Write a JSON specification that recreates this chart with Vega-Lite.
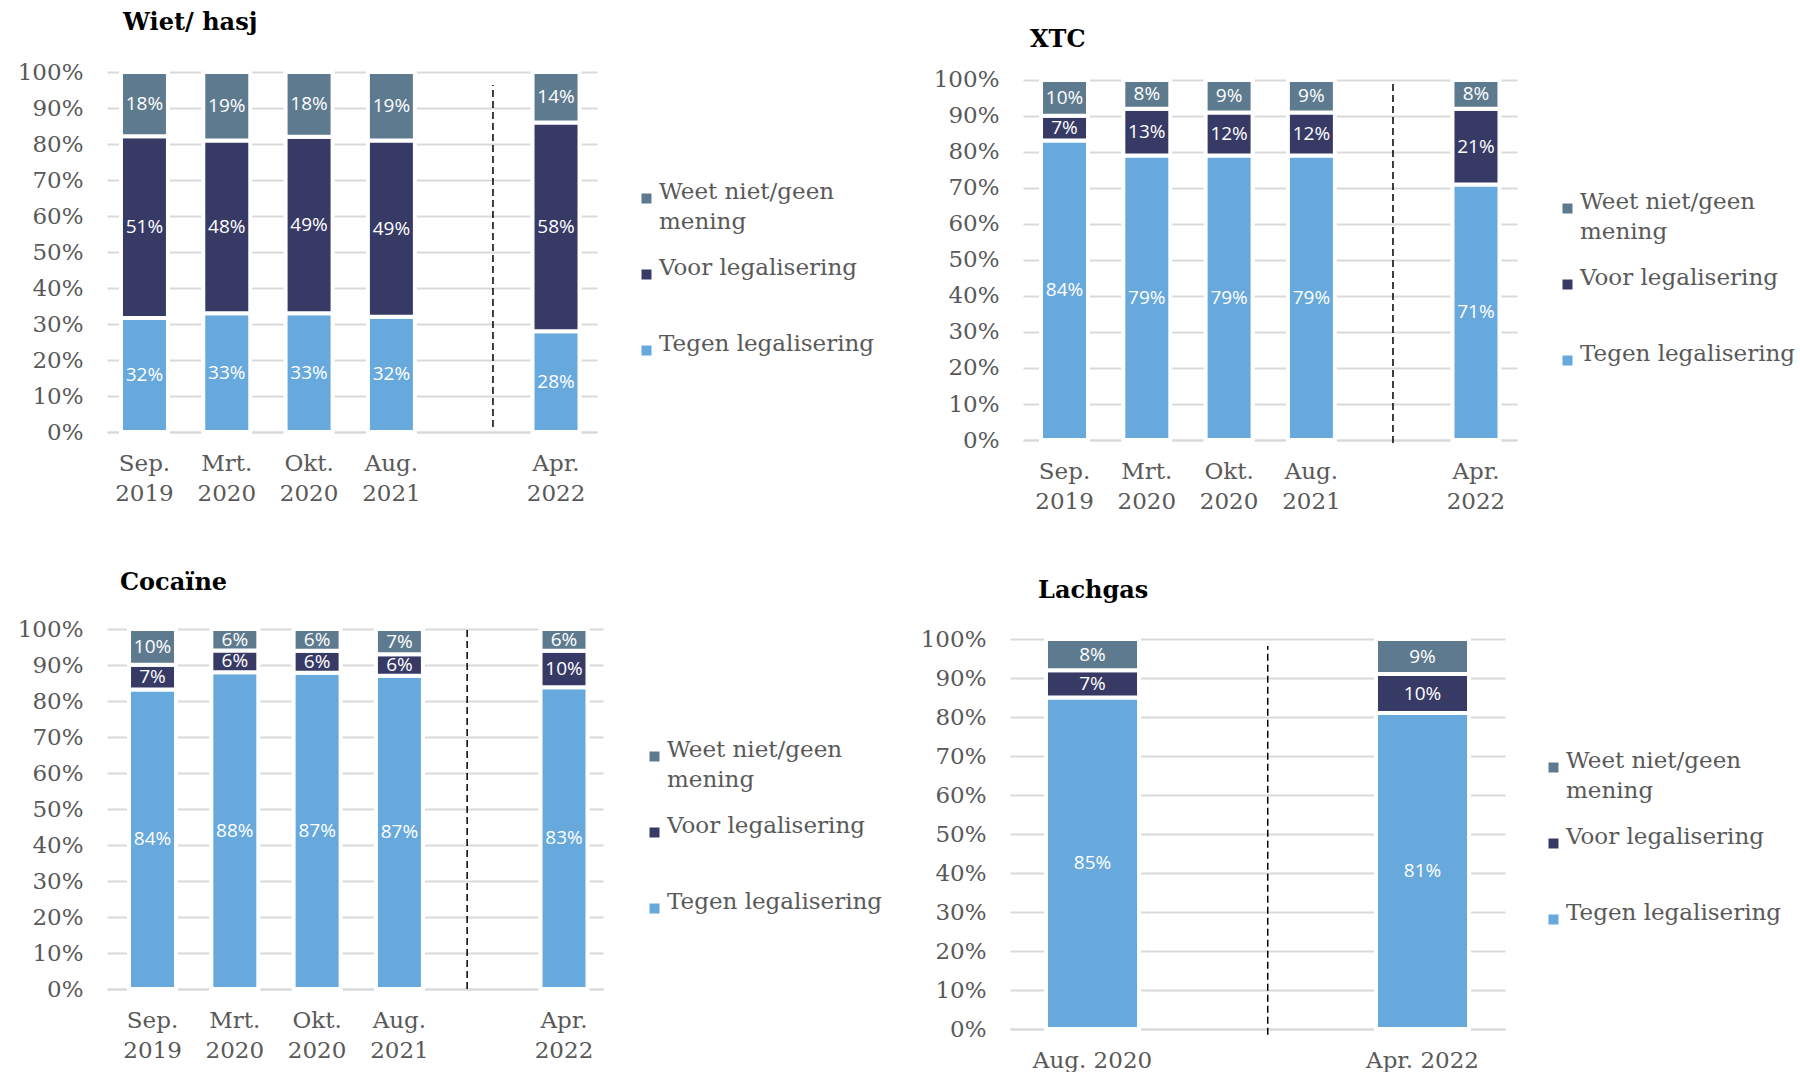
{
  "$schema": "https://vega.github.io/schema/vega-lite/v6.json",
  "background": "white",
  "padding": {"left": 17, "top": 11, "right": 0, "bottom": 0},
  "datasets": {
    "bars": [
      {"panel": "wiet", "date": "Sep. 2019", "cat": "Tegen legalisering", "v": 0.32, "order": 1},
      {"panel": "wiet", "date": "Sep. 2019", "cat": "Voor legalisering", "v": 0.51, "order": 2},
      {"panel": "wiet", "date": "Sep. 2019", "cat": "Weet niet/geen mening", "v": 0.18, "order": 3},
      {"panel": "wiet", "date": "Mrt. 2020", "cat": "Tegen legalisering", "v": 0.33, "order": 1},
      {"panel": "wiet", "date": "Mrt. 2020", "cat": "Voor legalisering", "v": 0.48, "order": 2},
      {"panel": "wiet", "date": "Mrt. 2020", "cat": "Weet niet/geen mening", "v": 0.19, "order": 3},
      {"panel": "wiet", "date": "Okt. 2020", "cat": "Tegen legalisering", "v": 0.33, "order": 1},
      {"panel": "wiet", "date": "Okt. 2020", "cat": "Voor legalisering", "v": 0.49, "order": 2},
      {"panel": "wiet", "date": "Okt. 2020", "cat": "Weet niet/geen mening", "v": 0.18, "order": 3},
      {"panel": "wiet", "date": "Aug. 2021", "cat": "Tegen legalisering", "v": 0.32, "order": 1},
      {"panel": "wiet", "date": "Aug. 2021", "cat": "Voor legalisering", "v": 0.49, "order": 2},
      {"panel": "wiet", "date": "Aug. 2021", "cat": "Weet niet/geen mening", "v": 0.19, "order": 3},
      {"panel": "wiet", "date": "Apr. 2022", "cat": "Tegen legalisering", "v": 0.28, "order": 1},
      {"panel": "wiet", "date": "Apr. 2022", "cat": "Voor legalisering", "v": 0.58, "order": 2},
      {"panel": "wiet", "date": "Apr. 2022", "cat": "Weet niet/geen mening", "v": 0.14, "order": 3},
      {"panel": "xtc", "date": "Sep. 2019", "cat": "Tegen legalisering", "v": 0.84, "order": 1},
      {"panel": "xtc", "date": "Sep. 2019", "cat": "Voor legalisering", "v": 0.07, "order": 2},
      {"panel": "xtc", "date": "Sep. 2019", "cat": "Weet niet/geen mening", "v": 0.10, "order": 3},
      {"panel": "xtc", "date": "Mrt. 2020", "cat": "Tegen legalisering", "v": 0.79, "order": 1},
      {"panel": "xtc", "date": "Mrt. 2020", "cat": "Voor legalisering", "v": 0.13, "order": 2},
      {"panel": "xtc", "date": "Mrt. 2020", "cat": "Weet niet/geen mening", "v": 0.08, "order": 3},
      {"panel": "xtc", "date": "Okt. 2020", "cat": "Tegen legalisering", "v": 0.79, "order": 1},
      {"panel": "xtc", "date": "Okt. 2020", "cat": "Voor legalisering", "v": 0.12, "order": 2},
      {"panel": "xtc", "date": "Okt. 2020", "cat": "Weet niet/geen mening", "v": 0.09, "order": 3},
      {"panel": "xtc", "date": "Aug. 2021", "cat": "Tegen legalisering", "v": 0.79, "order": 1},
      {"panel": "xtc", "date": "Aug. 2021", "cat": "Voor legalisering", "v": 0.12, "order": 2},
      {"panel": "xtc", "date": "Aug. 2021", "cat": "Weet niet/geen mening", "v": 0.09, "order": 3},
      {"panel": "xtc", "date": "Apr. 2022", "cat": "Tegen legalisering", "v": 0.71, "order": 1},
      {"panel": "xtc", "date": "Apr. 2022", "cat": "Voor legalisering", "v": 0.21, "order": 2},
      {"panel": "xtc", "date": "Apr. 2022", "cat": "Weet niet/geen mening", "v": 0.08, "order": 3},
      {"panel": "coc", "date": "Sep. 2019", "cat": "Tegen legalisering", "v": 0.84, "order": 1},
      {"panel": "coc", "date": "Sep. 2019", "cat": "Voor legalisering", "v": 0.07, "order": 2},
      {"panel": "coc", "date": "Sep. 2019", "cat": "Weet niet/geen mening", "v": 0.10, "order": 3},
      {"panel": "coc", "date": "Mrt. 2020", "cat": "Tegen legalisering", "v": 0.88, "order": 1},
      {"panel": "coc", "date": "Mrt. 2020", "cat": "Voor legalisering", "v": 0.06, "order": 2},
      {"panel": "coc", "date": "Mrt. 2020", "cat": "Weet niet/geen mening", "v": 0.06, "order": 3},
      {"panel": "coc", "date": "Okt. 2020", "cat": "Tegen legalisering", "v": 0.87, "order": 1},
      {"panel": "coc", "date": "Okt. 2020", "cat": "Voor legalisering", "v": 0.06, "order": 2},
      {"panel": "coc", "date": "Okt. 2020", "cat": "Weet niet/geen mening", "v": 0.06, "order": 3},
      {"panel": "coc", "date": "Aug. 2021", "cat": "Tegen legalisering", "v": 0.87, "order": 1},
      {"panel": "coc", "date": "Aug. 2021", "cat": "Voor legalisering", "v": 0.06, "order": 2},
      {"panel": "coc", "date": "Aug. 2021", "cat": "Weet niet/geen mening", "v": 0.07, "order": 3},
      {"panel": "coc", "date": "Apr. 2022", "cat": "Tegen legalisering", "v": 0.83, "order": 1},
      {"panel": "coc", "date": "Apr. 2022", "cat": "Voor legalisering", "v": 0.10, "order": 2},
      {"panel": "coc", "date": "Apr. 2022", "cat": "Weet niet/geen mening", "v": 0.06, "order": 3},
      {"panel": "lach", "date": "Aug. 2020", "cat": "Tegen legalisering", "v": 0.85, "order": 1},
      {"panel": "lach", "date": "Aug. 2020", "cat": "Voor legalisering", "v": 0.07, "order": 2},
      {"panel": "lach", "date": "Aug. 2020", "cat": "Weet niet/geen mening", "v": 0.08, "order": 3},
      {"panel": "lach", "date": "Apr. 2022", "cat": "Tegen legalisering", "v": 0.81, "order": 1},
      {"panel": "lach", "date": "Apr. 2022", "cat": "Voor legalisering", "v": 0.10, "order": 2},
      {"panel": "lach", "date": "Apr. 2022", "cat": "Weet niet/geen mening", "v": 0.09, "order": 3}
    ],
    "rules": [
      {"panel": "wiet", "date": "gap", "y1": 0.014, "y2": 0.964},
      {"panel": "xtc", "date": "gap", "y1": -0.008, "y2": 0.994},
      {"panel": "coc", "date": "gap", "y1": 0.0, "y2": 0.997},
      {"panel": "lach", "date": "gap", "y1": -0.015, "y2": 0.982}
    ]
  },
  "config": {
    "view": {"stroke": null},
    "style": {"guide-label": {"lineHeight": 30}},
    "axis": {"labelFont": "DejaVu Serif", "labelFontSize": 23, "labelColor": "#595959", "ticks": false},
    "axisX": {"grid": false, "domain": true, "domainColor": "#d9d9d9", "domainWidth": 2, "labelAngle": 0, "labelPadding": 20, "labelLineHeight": 30, "zindex": 1},
    "axisY": {"domain": false, "grid": true, "gridColor": "#d9d9d9", "gridWidth": 2, "labelPadding": 24},
    "legend": {
      "orient": "none", "direction": "vertical", "symbolType": "square", "symbolSize": 100, "symbolStrokeWidth": 0,
      "labelFont": "DejaVu Serif", "labelFontSize": 23, "labelColor": "#595959", "labelLimit": 500, "labelOffset": 1,
      "labelBaseline": "alphabetic", "rowPadding": 22, "padding": 0
    },
    "title": {"font": "DejaVu Serif", "fontSize": 24, "fontWeight": "bold", "color": "#000000", "anchor": "start", "frame": "group"}
  },
  "resolve": {"scale": {"color": "independent"}, "legend": {"color": "independent"}},
  "spacing": 58,
  "vconcat": [
    {
      "bounds": "flush",
      "spacing": 426,
      "resolve": {"scale": {"color": "independent"}, "legend": {"color": "independent"}},
      "hconcat": [
        {
          "width": 490, "height": 360,
          "title": {"text": "Wiet/ hasj", "dx": 16, "offset": 26},
          "layer": [
            {
              "data": {"name": "bars"},
              "transform": [{"filter": "datum.panel == 'wiet'"}],
              "mark": {"type": "bar", "stroke": "white", "strokeWidth": 4},
              "encoding": {
                "x": {"field": "date", "type": "nominal", "sort": null, "title": null,
                  "scale": {"domain": ["Sep. 2019", "Mrt. 2020", "Okt. 2020", "Aug. 2021", "gap", "Apr. 2022"], "paddingInner": 0.429, "paddingOuter": 0.191, "align": 0.444},
                  "axis": {"labelExpr": "datum.value == 'gap' ? '' : split(datum.value, ' ')"}},
                "y": {"field": "v", "type": "quantitative", "stack": "normalize", "title": null,
                  "scale": {"domain": [0, 1], "nice": false},
                  "axis": {"values": [0, 0.1, 0.2, 0.3, 0.4, 0.5, 0.6, 0.7, 0.8, 0.9, 1], "format": ".0%"}},
                "color": {"field": "cat", "type": "nominal",
                  "scale": {"domain": ["Weet niet/geen mening", "Voor legalisering", "Tegen legalisering"], "range": ["#5e7a8f", "#383a66", "#67a9dc"]},
                  "legend": {"title": null, "legendX": 528, "legendY": 115,
                    "labelExpr": "datum.label == 'Weet niet/geen mening' ? ['Weet niet/geen', 'mening'] : [datum.label, '']"}},
                "order": {"field": "order", "type": "quantitative"}
              }
            },
            {
              "data": {"name": "bars"},
              "transform": [
                {"filter": "datum.panel == 'wiet'"},
                {"stack": "v", "groupby": ["date"], "sort": [{"field": "order", "order": "ascending"}], "offset": "normalize", "as": ["v0", "v1"]},
                {"calculate": "(datum.v0 + datum.v1) / 2", "as": "mid"}
              ],
              "mark": {"type": "text", "font": "Open Sans", "fontSize": 19, "color": "white", "baseline": "middle", "align": "center"},
              "encoding": {
                "x": {"field": "date", "type": "nominal", "sort": null, "title": null,
                  "axis": {"labelExpr": "datum.value == 'gap' ? '' : split(datum.value, ' ')"}},
                "y": {"field": "mid", "type": "quantitative", "title": null,
                  "axis": {"values": [0, 0.1, 0.2, 0.3, 0.4, 0.5, 0.6, 0.7, 0.8, 0.9, 1], "format": ".0%"}},
                "text": {"field": "v", "type": "quantitative", "format": ".0%"}
              }
            },
            {
              "data": {"name": "rules"},
              "transform": [{"filter": "datum.panel == 'wiet'"}],
              "mark": {"type": "rule", "color": "black", "strokeWidth": 1.5, "strokeDash": [7, 4]},
              "encoding": {
                "x": {"field": "date", "type": "nominal", "bandPosition": 0.91, "title": null,
                  "axis": {"labelExpr": "datum.value == 'gap' ? '' : split(datum.value, ' ')"}},
                "y": {"field": "y1", "type": "quantitative", "title": null,
                  "axis": {"values": [0, 0.1, 0.2, 0.3, 0.4, 0.5, 0.6, 0.7, 0.8, 0.9, 1], "format": ".0%"}},
                "y2": {"field": "y2"}
              }
            }
          ]
        },
        {
          "width": 494, "height": 368,
          "title": {"text": "XTC", "dx": 7, "offset": 17},
          "layer": [
            {
              "data": {"name": "bars"},
              "transform": [{"filter": "datum.panel == 'xtc'"}],
              "mark": {"type": "bar", "stroke": "white", "strokeWidth": 4},
              "encoding": {
                "x": {"field": "date", "type": "nominal", "sort": null, "title": null,
                  "scale": {"domain": ["Sep. 2019", "Mrt. 2020", "Okt. 2020", "Aug. 2021", "gap", "Apr. 2022"], "paddingInner": 0.429, "paddingOuter": 0.216, "align": 0.507},
                  "axis": {"labelExpr": "datum.value == 'gap' ? '' : split(datum.value, ' ')"}},
                "y": {"field": "v", "type": "quantitative", "stack": "normalize", "title": null,
                  "scale": {"domain": [0, 1.022222], "nice": false},
                  "axis": {"values": [0, 0.1, 0.2, 0.3, 0.4, 0.5, 0.6, 0.7, 0.8, 0.9, 1], "format": ".0%"}},
                "color": {"field": "cat", "type": "nominal",
                  "scale": {"domain": ["Weet niet/geen mening", "Voor legalisering", "Tegen legalisering"], "range": ["#5e7a8f", "#383a66", "#67a9dc"]},
                  "legend": {"title": null, "legendX": 533, "legendY": 125,
                    "labelExpr": "datum.label == 'Weet niet/geen mening' ? ['Weet niet/geen', 'mening'] : [datum.label, '']"}},
                "order": {"field": "order", "type": "quantitative"}
              }
            },
            {
              "data": {"name": "bars"},
              "transform": [
                {"filter": "datum.panel == 'xtc'"},
                {"stack": "v", "groupby": ["date"], "sort": [{"field": "order", "order": "ascending"}], "offset": "normalize", "as": ["v0", "v1"]},
                {"calculate": "(datum.v0 + datum.v1) / 2", "as": "mid"}
              ],
              "mark": {"type": "text", "font": "Open Sans", "fontSize": 19, "color": "white", "baseline": "middle", "align": "center"},
              "encoding": {
                "x": {"field": "date", "type": "nominal", "sort": null, "title": null,
                  "axis": {"labelExpr": "datum.value == 'gap' ? '' : split(datum.value, ' ')"}},
                "y": {"field": "mid", "type": "quantitative", "title": null,
                  "axis": {"values": [0, 0.1, 0.2, 0.3, 0.4, 0.5, 0.6, 0.7, 0.8, 0.9, 1], "format": ".0%"}},
                "text": {"field": "v", "type": "quantitative", "format": ".0%"}
              }
            },
            {
              "data": {"name": "rules"},
              "transform": [{"filter": "datum.panel == 'xtc'"}],
              "mark": {"type": "rule", "color": "black", "strokeWidth": 1.5, "strokeDash": [7, 4]},
              "encoding": {
                "x": {"field": "date", "type": "nominal", "bandPosition": 0.485, "title": null,
                  "axis": {"labelExpr": "datum.value == 'gap' ? '' : split(datum.value, ' ')"}},
                "y": {"field": "y1", "type": "quantitative", "title": null,
                  "axis": {"values": [0, 0.1, 0.2, 0.3, 0.4, 0.5, 0.6, 0.7, 0.8, 0.9, 1], "format": ".0%"}},
                "y2": {"field": "y2"}
              }
            }
          ]
        }
      ]
    },
    {
      "bounds": "flush",
      "spacing": 407,
      "resolve": {"scale": {"color": "independent"}, "legend": {"color": "independent"}},
      "hconcat": [
        {
          "width": 496, "height": 360,
          "title": {"text": "Cocaïne", "dx": 13, "offset": 23},
          "layer": [
            {
              "data": {"name": "bars"},
              "transform": [{"filter": "datum.panel == 'coc'"}],
              "mark": {"type": "bar", "stroke": "white", "strokeWidth": 4},
              "encoding": {
                "x": {"field": "date", "type": "nominal", "sort": null, "title": null,
                  "scale": {"domain": ["Sep. 2019", "Mrt. 2020", "Okt. 2020", "Aug. 2021", "gap", "Apr. 2022"], "paddingInner": 0.429, "paddingOuter": 0.228, "align": 0.587},
                  "axis": {"labelExpr": "datum.value == 'gap' ? '' : split(datum.value, ' ')"}},
                "y": {"field": "v", "type": "quantitative", "stack": "normalize", "title": null,
                  "scale": {"domain": [0, 1], "nice": false},
                  "axis": {"values": [0, 0.1, 0.2, 0.3, 0.4, 0.5, 0.6, 0.7, 0.8, 0.9, 1], "format": ".0%"}},
                "color": {"field": "cat", "type": "nominal",
                  "scale": {"domain": ["Weet niet/geen mening", "Voor legalisering", "Tegen legalisering"], "range": ["#5e7a8f", "#383a66", "#67a9dc"]},
                  "legend": {"title": null, "legendX": 536, "legendY": 116,
                    "labelExpr": "datum.label == 'Weet niet/geen mening' ? ['Weet niet/geen', 'mening'] : [datum.label, '']"}},
                "order": {"field": "order", "type": "quantitative"}
              }
            },
            {
              "data": {"name": "bars"},
              "transform": [
                {"filter": "datum.panel == 'coc'"},
                {"stack": "v", "groupby": ["date"], "sort": [{"field": "order", "order": "ascending"}], "offset": "normalize", "as": ["v0", "v1"]},
                {"calculate": "(datum.v0 + datum.v1) / 2", "as": "mid"}
              ],
              "mark": {"type": "text", "font": "Open Sans", "fontSize": 19, "color": "white", "baseline": "middle", "align": "center"},
              "encoding": {
                "x": {"field": "date", "type": "nominal", "sort": null, "title": null,
                  "axis": {"labelExpr": "datum.value == 'gap' ? '' : split(datum.value, ' ')"}},
                "y": {"field": "mid", "type": "quantitative", "title": null,
                  "axis": {"values": [0, 0.1, 0.2, 0.3, 0.4, 0.5, 0.6, 0.7, 0.8, 0.9, 1], "format": ".0%"}},
                "text": {"field": "v", "type": "quantitative", "format": ".0%"}
              }
            },
            {
              "data": {"name": "rules"},
              "transform": [{"filter": "datum.panel == 'coc'"}],
              "mark": {"type": "rule", "color": "black", "strokeWidth": 1.5, "strokeDash": [7, 4]},
              "encoding": {
                "x": {"field": "date", "type": "nominal", "bandPosition": 0.19, "title": null,
                  "axis": {"labelExpr": "datum.value == 'gap' ? '' : split(datum.value, ' ')"}},
                "y": {"field": "y1", "type": "quantitative", "title": null,
                  "axis": {"values": [0, 0.1, 0.2, 0.3, 0.4, 0.5, 0.6, 0.7, 0.8, 0.9, 1], "format": ".0%"}},
                "y2": {"field": "y2"}
              }
            }
          ]
        },
        {
          "width": 495, "height": 400,
          "title": {"text": "Lachgas", "dx": 28, "offset": 25},
          "layer": [
            {
              "data": {"name": "bars"},
              "transform": [{"filter": "datum.panel == 'lach'"}],
              "mark": {"type": "bar", "stroke": "white", "strokeWidth": 4},
              "encoding": {
                "x": {"field": "date", "type": "nominal", "sort": null, "title": null,
                  "scale": {"domain": ["Aug. 2020", "gap", "Apr. 2022"], "paddingInner": 0.436, "paddingOuter": 0.218, "align": 0.5},
                  "axis": {"labelExpr": "datum.value == 'gap' ? '' : datum.value"}},
                "y": {"field": "v", "type": "quantitative", "stack": "normalize", "title": null,
                  "scale": {"domain": [0, 1.025641], "nice": false},
                  "axis": {"values": [0, 0.1, 0.2, 0.3, 0.4, 0.5, 0.6, 0.7, 0.8, 0.9, 1], "format": ".0%"}},
                "color": {"field": "cat", "type": "nominal",
                  "scale": {"domain": ["Weet niet/geen mening", "Voor legalisering", "Tegen legalisering"], "range": ["#5e7a8f", "#383a66", "#67a9dc"]},
                  "legend": {"title": null, "legendX": 532, "legendY": 127,
                    "labelExpr": "datum.label == 'Weet niet/geen mening' ? ['Weet niet/geen', 'mening'] : [datum.label, '']"}},
                "order": {"field": "order", "type": "quantitative"}
              }
            },
            {
              "data": {"name": "bars"},
              "transform": [
                {"filter": "datum.panel == 'lach'"},
                {"stack": "v", "groupby": ["date"], "sort": [{"field": "order", "order": "ascending"}], "offset": "normalize", "as": ["v0", "v1"]},
                {"calculate": "(datum.v0 + datum.v1) / 2", "as": "mid"}
              ],
              "mark": {"type": "text", "font": "Open Sans", "fontSize": 19, "color": "white", "baseline": "middle", "align": "center"},
              "encoding": {
                "x": {"field": "date", "type": "nominal", "sort": null, "title": null,
                  "axis": {"labelExpr": "datum.value == 'gap' ? '' : datum.value"}},
                "y": {"field": "mid", "type": "quantitative", "title": null,
                  "axis": {"values": [0, 0.1, 0.2, 0.3, 0.4, 0.5, 0.6, 0.7, 0.8, 0.9, 1], "format": ".0%"}},
                "text": {"field": "v", "type": "quantitative", "format": ".0%"}
              }
            },
            {
              "data": {"name": "rules"},
              "transform": [{"filter": "datum.panel == 'lach'"}],
              "mark": {"type": "rule", "color": "black", "strokeWidth": 1.5, "strokeDash": [7, 4]},
              "encoding": {
                "x": {"field": "date", "type": "nominal", "bandPosition": 0.61, "title": null,
                  "axis": {"labelExpr": "datum.value == 'gap' ? '' : datum.value"}},
                "y": {"field": "y1", "type": "quantitative", "title": null,
                  "axis": {"values": [0, 0.1, 0.2, 0.3, 0.4, 0.5, 0.6, 0.7, 0.8, 0.9, 1], "format": ".0%"}},
                "y2": {"field": "y2"}
              }
            }
          ]
        }
      ]
    }
  ]
}
